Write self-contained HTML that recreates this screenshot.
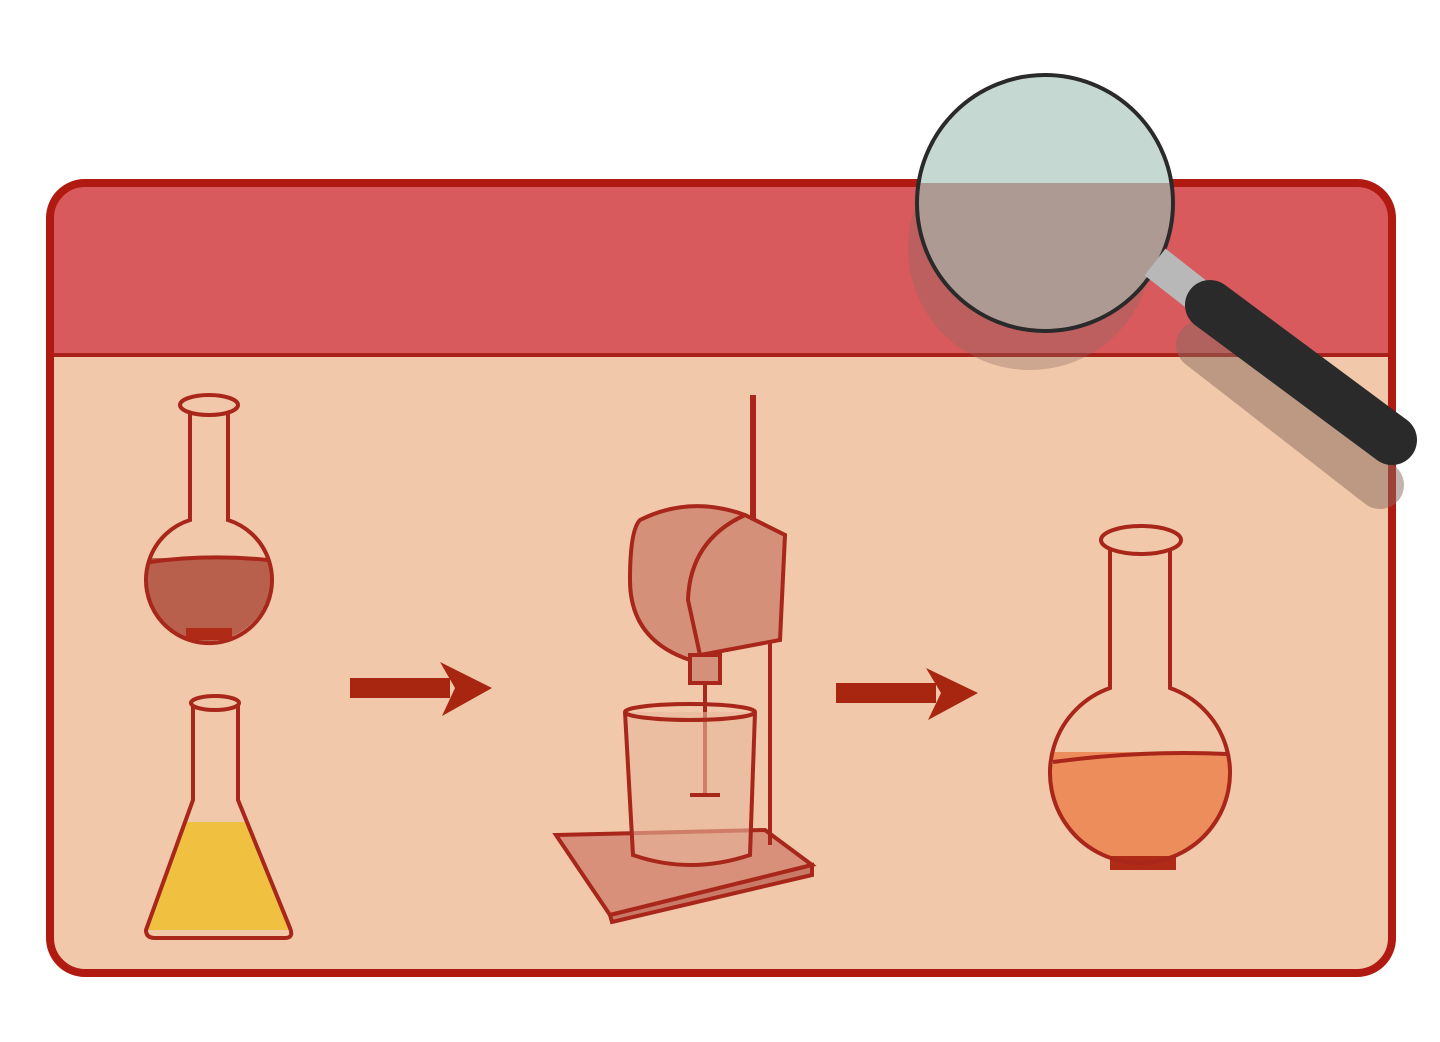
<!DOCTYPE html>
<html><head><meta charset="utf-8"><style>
html,body{margin:0;padding:0;background:#fff;width:1440px;height:1042px;overflow:hidden}
svg{display:block}
</style></head><body>
<svg width="1440" height="1042" viewBox="0 0 1440 1042">
<defs>
<clipPath id="frameClip"><rect x="50" y="183" width="1342" height="790" rx="35"/></clipPath>
<clipPath id="lensClip"><circle cx="1045" cy="203" r="126"/></clipPath>
<clipPath id="bulbR"><circle cx="1140" cy="772" r="90"/></clipPath>
<clipPath id="bulbL"><circle cx="208" cy="578" r="63"/></clipPath>
<clipPath id="erlen"><path d="M193 705 L193 800 L146 930 L290 930 L238 800 L238 705 Z"/></clipPath>
</defs>
<g>
<g clip-path="url(#frameClip)">
<rect x="50" y="183" width="1342" height="790" fill="#f1c8a9"/>
<rect x="50" y="183" width="1342" height="172" fill="#d85a5c"/>
<line x1="50" y1="355" x2="1392" y2="355" stroke="#a8201a" stroke-width="4"/>
</g>
<rect x="50" y="183" width="1342" height="790" rx="35" fill="none" stroke="#b01a10" stroke-width="8"/>
</g>

<g stroke="#a8261a" stroke-width="4" fill="none">
<rect x="144" y="558" width="130" height="90" fill="#b8604c" stroke="none" clip-path="url(#bulbL)"/>
<path d="M190 412 L190 520 A63 63 0 1 0 228 520 L228 412"/>
<ellipse cx="209" cy="405" rx="29" ry="10" fill="#f1c8a9"/>
<path d="M150 562 Q208 554 268 560"/>
<rect x="186" y="628" width="46" height="12" fill="#b02a18" stroke="none"/>
</g>

<g>
<rect x="140" y="822" width="160" height="120" fill="#f0c040" clip-path="url(#erlen)"/>
<path d="M193 705 L193 800 L146 930 Q146 938 155 938 L285 938 Q294 938 290 928 L238 800 L238 705" fill="none" stroke="#a8261a" stroke-width="4"/>
<ellipse cx="215" cy="703" rx="24" ry="7" fill="#f1c8a9" stroke="#a8261a" stroke-width="4"/>
</g>

<g fill="#a82510">
<rect x="350" y="678" width="100" height="20"/>
<polygon points="440,662 492,688 442,716 455,688"/>
</g>
<g fill="#a82510">
<rect x="836" y="683" width="100" height="20"/>
<polygon points="926,668 978,693 928,720 941,693"/>
</g>

<g stroke="#a8261a" stroke-width="4">
<polygon points="556,835 765,830 812,865 610,915" fill="#d8907a"/>
<polygon points="610,915 812,865 812,875 612,922" fill="#c97a66"/>
<line x1="753" y1="395" x2="753" y2="530" stroke-width="6"/>
<line x1="770" y1="540" x2="770" y2="845"/>
<path d="M640 520 Q690 495 745 515 L785 535 L780 640 L700 655 L690 660 Q630 640 630 580 Q630 530 640 520 Z" fill="#d49078"/>
<path d="M745 515 Q690 540 688 600 L700 655" fill="none"/>
<rect x="690" y="655" width="30" height="28" fill="#d49078"/>
<line x1="705" y1="683" x2="705" y2="795"/>
<path d="M625 712 L633 855 Q690 875 750 855 L755 712" fill="#eab79c" fill-opacity="0.6"/>
<ellipse cx="690" cy="712" rx="65" ry="8" fill="none"/>
<line x1="690" y1="795" x2="720" y2="795"/>
</g>

<g>
<rect x="1040" y="752" width="200" height="130" fill="#ee8d5c" clip-path="url(#bulbR)"/>
<rect x="1110" y="856" width="66" height="14" fill="#b02a18"/>
<path d="M1110 548 L1110 688 A90 90 0 1 0 1170 688 L1170 548" fill="none" stroke="#a8261a" stroke-width="4"/>
<path d="M1053 762 Q1140 750 1227 754" fill="none" stroke="#a8261a" stroke-width="4"/>
<ellipse cx="1141" cy="540" rx="40" ry="14" fill="#f1c8a9" stroke="#a8261a" stroke-width="4"/>
</g>

<g>
<circle cx="1030" cy="248" r="122" fill="#8a6a60" fill-opacity="0.35"/>
<line x1="1200" y1="345" x2="1380" y2="485" stroke="#8a6a60" stroke-opacity="0.5" stroke-width="48" stroke-linecap="round"/>
<g clip-path="url(#lensClip)">
<rect x="915" y="75" width="260" height="260" fill="#c5d9d2"/>
<rect x="915" y="183" width="260" height="160" fill="#a8928c" fill-opacity="0.9"/>
</g>
<circle cx="1045" cy="203" r="128" fill="none" stroke="#2a2a2a" stroke-width="4"/>
<line x1="1155" y1="262" x2="1210" y2="305" stroke="#b8b8b8" stroke-width="34"/>
<line x1="1210" y1="305" x2="1392" y2="440" stroke="#2a2a2a" stroke-width="50" stroke-linecap="round"/>
</g>
</svg>
</body></html>
